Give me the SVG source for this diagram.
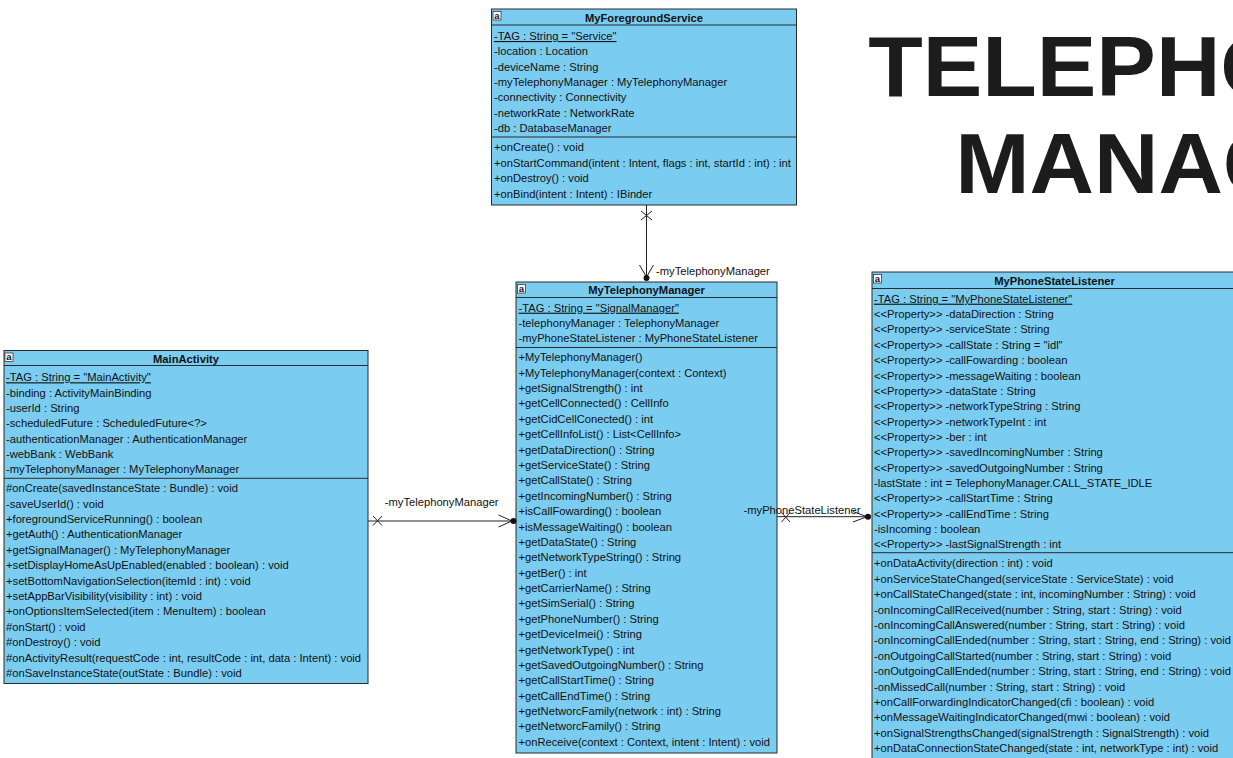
<svg xmlns="http://www.w3.org/2000/svg" width="1233" height="758" viewBox="0 0 1233 758">
<style>
.box{fill:#7acdf1;stroke:#2b2b2b;stroke-width:1}
.sep{stroke:#2b2b2b;stroke-width:1}
.t{font-family:"Liberation Sans",Arial,sans-serif;font-size:11.2px;fill:#111}
.h{font-family:"Liberation Sans",Arial,sans-serif;font-size:11.2px;font-weight:bold;fill:#111;text-anchor:middle}
.u{text-decoration:underline}
.ic{fill:#fff;stroke:#222;stroke-width:0.7}
.ict{font-family:"Liberation Sans",Arial,sans-serif;font-size:9.5px;font-weight:bold;fill:#111;text-anchor:middle}
.ln{stroke:#222;stroke-width:1;fill:none}
.lbl{font-family:"Liberation Sans",Arial,sans-serif;font-size:11.2px;fill:#111}
.big{font-family:"Liberation Sans",Arial,sans-serif;font-size:85px;font-weight:bold;fill:#1c1c1c}
</style>
<defs>
<g id="icon"><rect class="ic" x="0" y="0" width="8" height="8.5"/><text class="ict" x="4" y="7.3">a</text></g>
</defs>
<rect x="0" y="0" width="1233" height="758" fill="#fff"/>

<g id="title">
<text class="big" transform="translate(868.3,96) scale(1.05,1)" x="0" y="0">TELEPHONY</text>
<text class="big" transform="translate(955.2,192.5) scale(1.05,1)" x="0" y="0">MANAGER</text>
</g>

<g id="MyForegroundService">
<rect class="box" x="491.5" y="9" width="305" height="196"/>
<line class="sep" x1="491.5" y1="25" x2="796.5" y2="25"/>
<line class="sep" x1="491.5" y1="137" x2="796.5" y2="137"/>
<use href="#icon" x="493" y="11.5"/>
<text class="h" x="644" y="21.5">MyForegroundService</text>
<text class="t u" x="494" y="40">-TAG : String = "Service"</text>
<text class="t" x="494" y="55.3">-location : Location</text>
<text class="t" x="494" y="70.7">-deviceName : String</text>
<text class="t" x="494" y="86">-myTelephonyManager : MyTelephonyManager</text>
<text class="t" x="494" y="101.4">-connectivity : Connectivity</text>
<text class="t" x="494" y="116.8">-networkRate : NetworkRate</text>
<text class="t" x="494" y="132.1">-db : DatabaseManager</text>
<text class="t" x="494" y="151.3">+onCreate() : void</text>
<text class="t" x="494" y="166.7">+onStartCommand(intent : Intent, flags : int, startId : int) : int</text>
<text class="t" x="494" y="182.1">+onDestroy() : void</text>
<text class="t" x="494" y="197.5">+onBind(intent : Intent) : IBinder</text>
</g>

<g id="MyTelephonyManager">
<rect class="box" x="516" y="282" width="261" height="471"/>
<line class="sep" x1="516" y1="297.5" x2="777" y2="297.5"/>
<line class="sep" x1="516" y1="347.5" x2="777" y2="347.5"/>
<use href="#icon" x="517.5" y="284.5"/>
<text class="h" x="646.5" y="293.5">MyTelephonyManager</text>
<text class="t u" x="518.5" y="311.7">-TAG : String = "SignalManager"</text>
<text class="t" x="518.5" y="327">-telephonyManager : TelephonyManager</text>
<text class="t" x="518.5" y="342.3">-myPhoneStateListener : MyPhoneStateListener</text>
<text class="t" x="518.5" y="361.3">+MyTelephonyManager()</text>
<text class="t" x="518.5" y="376.7">+MyTelephonyManager(context : Context)</text>
<text class="t" x="518.5" y="392.1">+getSignalStrength() : int</text>
<text class="t" x="518.5" y="407.4">+getCellConnected() : CellInfo</text>
<text class="t" x="518.5" y="422.8">+getCidCellConected() : int</text>
<text class="t" x="518.5" y="438.2">+getCellInfoList() : List&lt;CellInfo&gt;</text>
<text class="t" x="518.5" y="453.6">+getDataDirection() : String</text>
<text class="t" x="518.5" y="469">+getServiceState() : String</text>
<text class="t" x="518.5" y="484.3">+getCallState() : String</text>
<text class="t" x="518.5" y="499.7">+getIncomingNumber() : String</text>
<text class="t" x="518.5" y="515.1">+isCallFowarding() : boolean</text>
<text class="t" x="518.5" y="530.5">+isMessageWaiting() : boolean</text>
<text class="t" x="518.5" y="545.9">+getDataState() : String</text>
<text class="t" x="518.5" y="561.2">+getNetworkTypeString() : String</text>
<text class="t" x="518.5" y="576.6">+getBer() : int</text>
<text class="t" x="518.5" y="592">+getCarrierName() : String</text>
<text class="t" x="518.5" y="607.4">+getSimSerial() : String</text>
<text class="t" x="518.5" y="622.8">+getPhoneNumber() : String</text>
<text class="t" x="518.5" y="638.1">+getDeviceImei() : String</text>
<text class="t" x="518.5" y="653.5">+getNetworkType() : int</text>
<text class="t" x="518.5" y="668.9">+getSavedOutgoingNumber() : String</text>
<text class="t" x="518.5" y="684.3">+getCallStartTime() : String</text>
<text class="t" x="518.5" y="699.7">+getCallEndTime() : String</text>
<text class="t" x="518.5" y="715">+getNetworcFamily(network : int) : String</text>
<text class="t" x="518.5" y="730.4">+getNetworcFamily() : String</text>
<text class="t" x="518.5" y="745.8">+onReceive(context : Context, intent : Intent) : void</text>
</g>

<g id="MainActivity">
<rect class="box" x="4" y="350.5" width="364" height="333"/>
<line class="sep" x1="4" y1="365.5" x2="368" y2="365.5"/>
<line class="sep" x1="4" y1="478.3" x2="368" y2="478.3"/>
<use href="#icon" x="5" y="353"/>
<text class="h" x="186" y="362.5">MainActivity</text>
<text class="t u" x="6" y="381.3">-TAG : String = "MainActivity"</text>
<text class="t" x="6" y="396.7">-binding : ActivityMainBinding</text>
<text class="t" x="6" y="412">-userId : String</text>
<text class="t" x="6" y="427.4">-scheduledFuture : ScheduledFuture&lt;?&gt;</text>
<text class="t" x="6" y="442.7">-authenticationManager : AuthenticationManager</text>
<text class="t" x="6" y="458.1">-webBank : WebBank</text>
<text class="t" x="6" y="473.4">-myTelephonyManager : MyTelephonyManager</text>
<text class="t" x="6" y="492.3">#onCreate(savedInstanceState : Bundle) : void</text>
<text class="t" x="6" y="507.7">-saveUserId() : void</text>
<text class="t" x="6" y="523.1">+foregroundServiceRunning() : boolean</text>
<text class="t" x="6" y="538.4">+getAuth() : AuthenticationManager</text>
<text class="t" x="6" y="553.8">+getSignalManager() : MyTelephonyManager</text>
<text class="t" x="6" y="569.2">+setDisplayHomeAsUpEnabled(enabled : boolean) : void</text>
<text class="t" x="6" y="584.6">+setBottomNavigationSelection(itemId : int) : void</text>
<text class="t" x="6" y="600">+setAppBarVisibility(visibility : int) : void</text>
<text class="t" x="6" y="615.3">+onOptionsItemSelected(item : MenuItem) : boolean</text>
<text class="t" x="6" y="630.7">#onStart() : void</text>
<text class="t" x="6" y="646.1">#onDestroy() : void</text>
<text class="t" x="6" y="661.5">#onActivityResult(requestCode : int, resultCode : int, data : Intent) : void</text>
<text class="t" x="6" y="676.9">#onSaveInstanceState(outState : Bundle) : void</text>
</g>

<g id="MyPhoneStateListener">
<rect class="box" x="872" y="272" width="365" height="495"/>
<line class="sep" x1="872" y1="288.5" x2="1237" y2="288.5"/>
<line class="sep" x1="872" y1="552.7" x2="1237" y2="552.7"/>
<use href="#icon" x="873.5" y="274.5"/>
<text class="h" x="1054.5" y="284.7">MyPhoneStateListener</text>
<text class="t u" x="874" y="302.7">-TAG : String = "MyPhoneStateListener"</text>
<text class="t" x="874" y="318.1">&lt;&lt;Property&gt;&gt; -dataDirection : String</text>
<text class="t" x="874" y="333.4">&lt;&lt;Property&gt;&gt; -serviceState : String</text>
<text class="t" x="874" y="348.8">&lt;&lt;Property&gt;&gt; -callState : String = "idl"</text>
<text class="t" x="874" y="364.1">&lt;&lt;Property&gt;&gt; -callFowarding : boolean</text>
<text class="t" x="874" y="379.5">&lt;&lt;Property&gt;&gt; -messageWaiting : boolean</text>
<text class="t" x="874" y="394.8">&lt;&lt;Property&gt;&gt; -dataState : String</text>
<text class="t" x="874" y="410.2">&lt;&lt;Property&gt;&gt; -networkTypeString : String</text>
<text class="t" x="874" y="425.5">&lt;&lt;Property&gt;&gt; -networkTypeInt : int</text>
<text class="t" x="874" y="440.9">&lt;&lt;Property&gt;&gt; -ber : int</text>
<text class="t" x="874" y="456.2">&lt;&lt;Property&gt;&gt; -savedIncomingNumber : String</text>
<text class="t" x="874" y="471.6">&lt;&lt;Property&gt;&gt; -savedOutgoingNumber : String</text>
<text class="t" x="874" y="486.9">-lastState : int = TelephonyManager.CALL_STATE_IDLE</text>
<text class="t" x="874" y="502.3">&lt;&lt;Property&gt;&gt; -callStartTime : String</text>
<text class="t" x="874" y="517.6">&lt;&lt;Property&gt;&gt; -callEndTime : String</text>
<text class="t" x="874" y="533">-isIncoming : boolean</text>
<text class="t" x="874" y="548.3">&lt;&lt;Property&gt;&gt; -lastSignalStrength : int</text>
<text class="t" x="874" y="567.3">+onDataActivity(direction : int) : void</text>
<text class="t" x="874" y="582.7">+onServiceStateChanged(serviceState : ServiceState) : void</text>
<text class="t" x="874" y="598.1">+onCallStateChanged(state : int, incomingNumber : String) : void</text>
<text class="t" x="874" y="613.5">-onIncomingCallReceived(number : String, start : String) : void</text>
<text class="t" x="874" y="628.9">-onIncomingCallAnswered(number : String, start : String) : void</text>
<text class="t" x="874" y="644.3">-onIncomingCallEnded(number : String, start : String, end : String) : void</text>
<text class="t" x="874" y="659.7">-onOutgoingCallStarted(number : String, start : String) : void</text>
<text class="t" x="874" y="675.1">-onOutgoingCallEnded(number : String, start : String, end : String) : void</text>
<text class="t" x="874" y="690.5">-onMissedCall(number : String, start : String) : void</text>
<text class="t" x="874" y="705.9">+onCallForwardingIndicatorChanged(cfi : boolean) : void</text>
<text class="t" x="874" y="721.3">+onMessageWaitingIndicatorChanged(mwi : boolean) : void</text>
<text class="t" x="874" y="736.7">+onSignalStrengthsChanged(signalStrength : SignalStrength) : void</text>
<text class="t" x="874" y="752.1">+onDataConnectionStateChanged(state : int, networkType : int) : void</text>
</g>

<g id="connectors">
<g id="c1">
<line class="ln" x1="646.5" y1="205" x2="646.5" y2="277"/>
<path class="ln" d="M641,211 L652,220 M652,211 L641,220"/>
<path class="ln" d="M639.5,265 L646.5,277 L653.5,265"/>
<circle cx="646.5" cy="278" r="3" fill="#111"/>
<text class="lbl" x="656" y="275">-myTelephonyManager</text>
</g>
<g id="c2">
<line class="ln" x1="368" y1="521" x2="513" y2="521"/>
<path class="ln" d="M373,516 L382,525.5 M382,516 L373,525.5"/>
<path class="ln" d="M498.5,515 L512,521 L498.5,527"/>
<circle cx="513.5" cy="521" r="3" fill="#111"/>
<text class="lbl" x="441.7" y="506" text-anchor="middle">-myTelephonyManager</text>
</g>
<g id="c3">
<line class="ln" x1="777" y1="516.7" x2="868" y2="516.7"/>
<path class="ln" d="M781.5,512.5 L790,522 M790,512.5 L781.5,522"/>
<path class="ln" d="M853,511.5 L867,516.7 L853,522"/>
<circle cx="868" cy="516.7" r="3" fill="#111"/>
<text class="lbl" x="743.5" y="514">-myPhoneStateListener</text>
</g>
</g>
</svg>
